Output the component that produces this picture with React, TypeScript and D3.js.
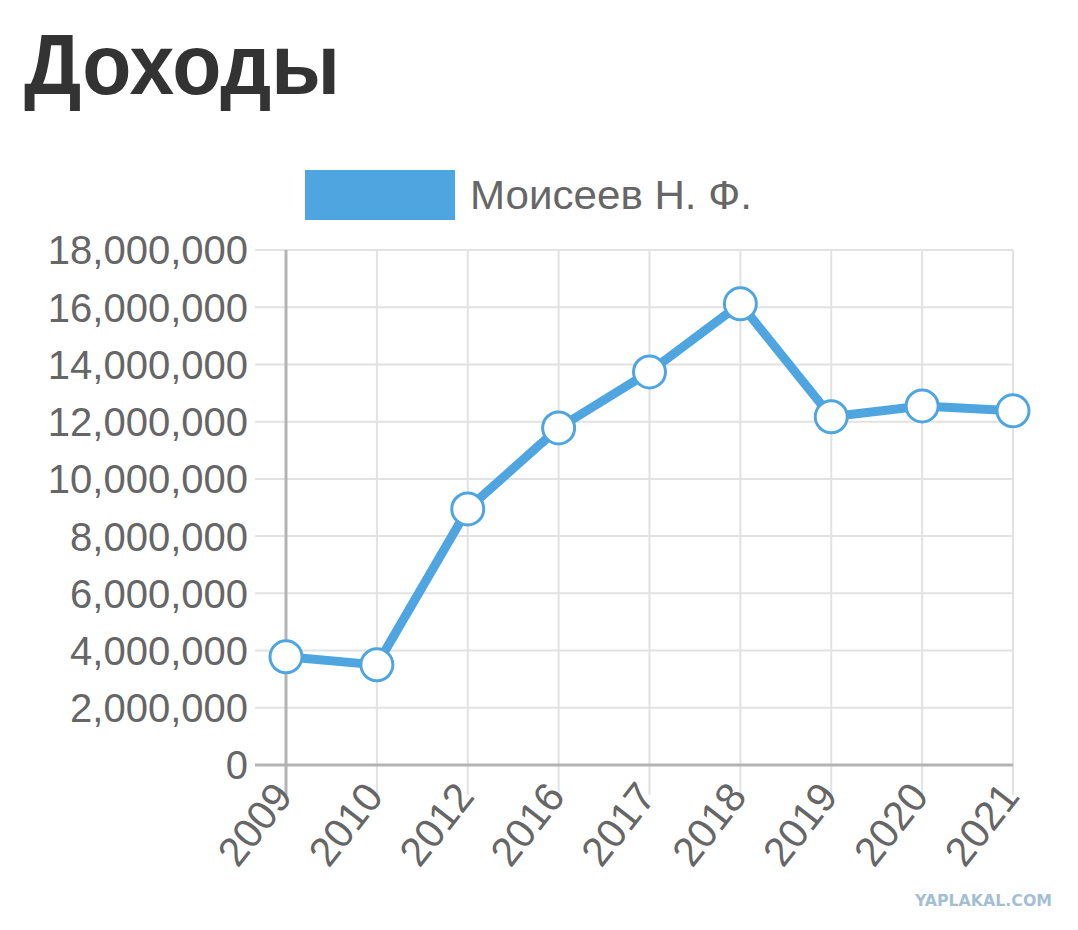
import React from 'react'
import * as d3 from 'd3'

const years = ['2009', '2010', '2012', '2016', '2017', '2018', '2019', '2020', '2021']
const income = [3780000, 3500000, 8950000, 11780000, 13740000, 16120000, 12170000, 12550000, 12380000]
const yTicks = [0, 2000000, 4000000, 6000000, 8000000, 10000000, 12000000, 14000000, 16000000, 18000000]
const seriesName = 'Моисеев Н. Ф.'
const title = 'Доходы'

const width = 1078
const height = 930
const margin = { top: 250, left: 286, bottom: 165, right: 65 }
const blue = '#4fa5e0'
const font = '"Liberation Sans", Arial, sans-serif'

const App: React.FunctionComponent = () => {
  const xScale = d3
    .scalePoint<string>()
    .domain(years)
    .range([margin.left, width - margin.right])

  const yScale = d3
    .scaleLinear()
    .domain([0, 18000000])
    .range([height - margin.bottom, margin.top])

  const line = d3
    .line<number>()
    .x((_, i) => xScale(years[i]) || 0)
    .y(d => yScale(d))

  const fmt = d3.format(',')
  const y0 = yScale(0)
  const xEnd = width - margin.right

  return (
    <svg
      width={width}
      height={height}
      style={{ position: 'absolute', left: 0, top: 0, background: '#fff' }}
    >
      <text
        x={24}
        y={94}
        fontFamily={font}
        fontWeight="bold"
        fontSize={86}
        fill="#333"
        textLength={316}
        lengthAdjust="spacingAndGlyphs"
      >
        {title}
      </text>

      {/* legend */}
      <rect x={305} y={170} width={150} height={50} fill={blue} />
      <text
        x={470}
        y={209}
        fontFamily={font}
        fontSize={41}
        fill="#666"
        textLength={282}
        lengthAdjust="spacingAndGlyphs"
      >
        {seriesName}
      </text>

      {/* grid */}
      {yTicks.map(t => (
        <line
          key={'h' + t}
          x1={margin.left - 31}
          x2={xEnd}
          y1={yScale(t)}
          y2={yScale(t)}
          stroke="#e2e2e2"
          strokeWidth={2}
        />
      ))}
      {years.map(y => (
        <line
          key={'v' + y}
          x1={xScale(y)}
          x2={xScale(y)}
          y1={margin.top}
          y2={y0 + 30}
          stroke="#e2e2e2"
          strokeWidth={2}
        />
      ))}

      {/* axes */}
      <line x1={margin.left - 31} x2={xEnd} y1={y0} y2={y0} stroke="#b3b3b3" strokeWidth={3} />
      <line
        x1={margin.left}
        x2={margin.left}
        y1={margin.top}
        y2={y0 + 30}
        stroke="#b3b3b3"
        strokeWidth={3}
      />

      {yTicks.map(t => (
        <text
          key={'yl' + t}
          x={248}
          y={yScale(t)}
          dy="0.36em"
          textAnchor="end"
          fontFamily={font}
          fontSize={40}
          fill="#666"
        >
          {fmt(t)}
        </text>
      ))}

      {years.map(y => (
        <text
          key={'xl' + y}
          transform={`translate(${(xScale(y) || 0) + 8}, ${y0 + 32}) rotate(-52)`}
          textAnchor="end"
          fontFamily={font}
          fontSize={41}
          fill="#666"
        >
          {y}
        </text>
      ))}

      <path
        d={line(income) || ''}
        fill="none"
        stroke={blue}
        strokeWidth={9}
        strokeLinejoin="round"
      />
      {income.map((v, i) => (
        <circle
          key={'p' + i}
          cx={xScale(years[i])}
          cy={yScale(v)}
          r={16}
          fill="#fff"
          stroke={blue}
          strokeWidth={3}
        />
      ))}

      <text
        x={915}
        y={906}
        fontFamily='"DejaVu Sans Condensed", "DejaVu Sans", sans-serif'
        fontWeight="bold"
        fontSize={16}
        fill="#a3bfd3"
        textLength={137}
        lengthAdjust="spacingAndGlyphs"
      >
        YAPLAKAL.COM
      </text>
    </svg>
  )
}

export default App
